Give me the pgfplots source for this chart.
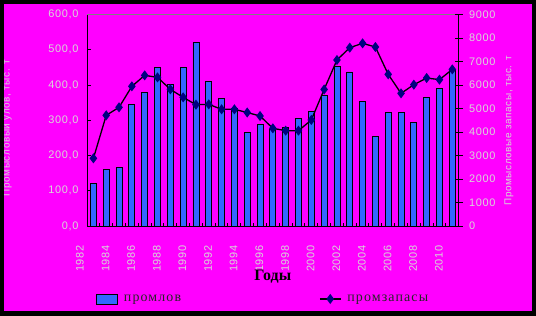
\documentclass[border=0pt]{standalone}
\usepackage{pgfplots}
\pgfplotsset{compat=1.18}
\usepackage{pgfplotstable}
\usepackage{fontspec}
\setmainfont{Liberation Serif}
\setsansfont{Liberation Sans}
\newfontfamily\tickfont[LetterSpace=6]{Liberation Sans}
\newfontfamily\legfont[LetterSpace=8]{Liberation Serif}
\definecolor{bg}{RGB}{255,0,255}
\definecolor{barblue}{RGB}{51,102,255}
\definecolor{mk}{RGB}{0,0,128}
\definecolor{lt}{RGB}{215,215,215}
\pgfplotsset{
  barleg/.style={legend image code/.code={\draw[##1, bar width=0pt] (0bp,-5bp) rectangle (21bp,5bp);}},
  lineleg/.style={legend image code/.code={\draw[##1, mark repeat=2, mark phase=2] plot coordinates {(0bp,0bp) (10.5bp,0bp) (21bp,0bp)};}},
}

\pgfplotstableread{
idx year catch stock
0 1982 121 2880
1 1983 161 4710
2 1984 167 5050
3 1985 345 5943
4 1986 379 6411
5 1987 450 6326
6 1988 402 5816
7 1989 450 5475
8 1990 521 5163
9 1991 411 5177
10 1992 362 4965
11 1993 335 4965
12 1994 266 4830
13 1995 289 4681
14 1996 275 4156
15 1997 280 4057
16 1998 305 4057
17 1999 325 4511
18 2000 371 5810
19 2001 453 7064
20 2002 437 7589
21 2003 354 7773
22 2004 255 7617
23 2005 323 6454
24 2006 323 5645
25 2007 295 6014
26 2008 365 6298
27 2009 391 6227
28 2010 445 6666
}\data

\begin{document}
\begin{tikzpicture}[x=1bp,y=1bp]
\useasboundingbox (0,0) rectangle (536,315);
\fill[bg] (0,0) rectangle (536,315);
\begin{axis}[
  at={(87bp,89bp)}, anchor=south west,
  scale only axis, width=371.7bp, height=211.5bp,
  xmin=-0.5, xmax=28.5, ymin=0, ymax=600,
  axis x line*=bottom, axis y line*=left,
  axis line style={black, line width=1bp},
  xtick={0,2,...,28},
  xticklabels={1982,1984,1986,1988,1990,1992,1994,1996,1998,2000,2002,2004,2006,2008,2010},
  major x tick style={draw=none},
  minor xtick={0.5,1.5,...,27.5},
  minor tick length=3bp,
  minor x tick style={black, line width=1bp},
  tick align=inside,
  xticklabel style={font=\tickfont\fontsize{11}{11}\selectfont, text=lt,
     xshift=-13.5bp, yshift=-16bp, rotate=90, anchor=east},
  ytick={0,100,...,600},
  major tick length=4bp,
  ytick style={black, line width=1bp},
  yticklabel style={font=\tickfont\fontsize{11}{11}\selectfont, text=lt, xshift=-5bp},
  /pgf/number format/assume math mode=true,
  yticklabel={\pgfmathprintnumber[fixed,fixed zerofill,precision=1,use comma]{\tick}},
  ylabel={Промысловый улов, тыс. т},
  ylabel style={at={(axis description cs:-0.215,0.463)}, anchor=center,
     font=\tickfont\fontsize{10}{10}\selectfont, text=lt},
  xlabel={Годы},
  xlabel style={at={(axis description cs:0.5,-0.2553)}, anchor=base,
     font=\bfseries\fontsize{16}{16}\selectfont},
  legend columns=2,
  legend style={draw=none, fill=none, at={(axis description cs:0.016,-0.345)}, anchor=west,
     font=\legfont\fontsize{14}{14}\selectfont, text=black!85,
     /tikz/every odd column/.append style={column sep=4bp},
     /tikz/every even column/.append style={column sep=136bp}},
]
\draw[gray, line width=1bp] (rel axis cs:0,1) -- (rel axis cs:1,1);
\addplot[ybar, bar width=6bp, bar shift=0pt, fill=barblue, draw=black, line width=0.8bp, barleg]
  table[x=idx, y=catch]{\data};
\addlegendentry{промлов}
\addlegendimage{black, line width=1.3bp, mark=diamond*, mark size=4bp, mark options={fill=mk, draw=mk}, lineleg}
\addlegendentry{промзапасы}
\end{axis}
\begin{axis}[
  at={(87bp,89bp)}, anchor=south west,
  scale only axis, width=371.7bp, height=211.5bp,
  xmin=-0.5, xmax=28.5, ymin=0, ymax=9000,
  axis x line=none, axis y line*=right,
  axis line style={black, line width=1bp},
  ytick={0,1000,...,9000},
  tick align=center, major tick length=8bp,
  ytick style={black, line width=1bp},
  yticklabel style={font=\tickfont\fontsize{11}{11}\selectfont, text=lt, xshift=3bp},
  /pgf/number format/assume math mode=true,
  /pgf/number format/1000 sep={},
  ylabel={Промысловые запасы, тыс. т},
  ylabel style={at={(axis description cs:1.135,0.449)}, anchor=center,
     font=\tickfont\fontsize{10}{10}\selectfont, text=lt},
]
\addplot[black, line width=1.3bp, mark=diamond*, mark size=4bp, mark options={fill=mk, draw=mk}]
  table[x=idx, y=stock]{\data};
\end{axis}
\draw[black, line width=8bp] (0,0) rectangle (536,315);
\end{tikzpicture}
\end{document}
